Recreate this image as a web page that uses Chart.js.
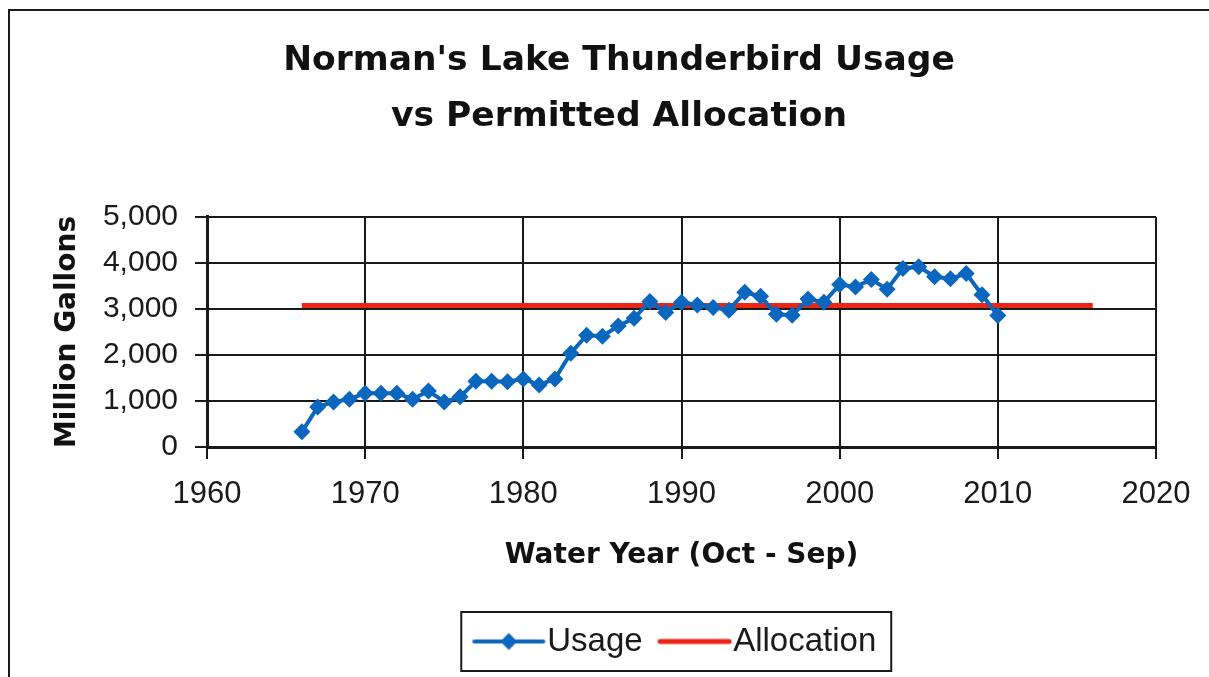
<!DOCTYPE html>
<html>
<head>
<meta charset="utf-8">
<script src="https://cdn.jsdelivr.net/npm/chart.js@4.4.1/dist/chart.umd.min.js"></script>
<style>
html,body{margin:0;padding:0;background:#fff;}
canvas{display:block;}
</style>
</head>
<body>
<canvas id="c" width="1209" height="677"></canvas>
<script>
// ---- data ----
const years = [1966,1967,1968,1969,1970,1971,1972,1973,1974,1975,1976,1977,1978,1979,1980,
               1981,1982,1983,1984,1985,1986,1987,1988,1989,1990,1991,1992,1993,1994,1995,
               1996,1997,1998,1999,2000,2001,2002,2003,2004,2005,2006,2007,2008,2009,2010];
const usage = [330,870,980,1040,1170,1170,1170,1040,1220,980,1090,1430,1430,1420,1480,
               1350,1480,2040,2430,2410,2630,2800,3165,2925,3145,3085,3035,2975,3365,3275,
               2885,2865,3215,3145,3530,3480,3640,3430,3880,3920,3700,3660,3770,3310,2860];
const allocationYears = [1966, 2016];
const allocation = [3075, 3075];
const seriesNames = ['Usage', 'Allocation'];
const titleLines = ["Norman's Lake Thunderbird Usage", "vs Permitted Allocation"];
const xAxisTitle = 'Water Year (Oct - Sep)';
const yAxisTitle = 'Million Gallons';
const xMin = 1960, xMax = 2020, xStep = 10;
const yMin = 0, yMax = 5000, yStep = 1000;

// ---- styles ----
const BLUE = '#0b66bd';
const RED = '#ee2414';
const INK = '#1a1a1a';
const LEG_PAD = 30;
const PAD_LEFT = 82;

function legendImg(color, lw, diamond) {
  const c = document.createElement('canvas');
  c.width = 75; c.height = 24;
  const g = c.getContext('2d');
  g.strokeStyle = color; g.lineWidth = lw; g.lineCap = 'round';
  g.beginPath(); g.moveTo(3, 12); g.lineTo(72, 12); g.stroke();
  if (diamond) {
    g.fillStyle = color;
    g.beginPath();
    g.moveTo(37.5 - 8.5, 12); g.lineTo(37.5, 3.5); g.lineTo(46, 12); g.lineTo(37.5, 20.5);
    g.closePath(); g.fill();
  }
  return c;
}
const legendImages = [legendImg(BLUE, 4, true), legendImg(RED, 5, false)];

const framePlugin = {
  id: 'frame',
  beforeDraw(chart) {
    const ctx = chart.ctx;
    ctx.save();
    ctx.fillStyle = '#fff';
    ctx.fillRect(0, 0, chart.width, chart.height);
    ctx.strokeStyle = INK; ctx.lineWidth = 2;
    ctx.beginPath();
    ctx.moveTo(9, 677); ctx.lineTo(9, 10); ctx.lineTo(1209, 10);
    ctx.stroke();
    ctx.restore();
  },
  afterDraw(chart) {
    const lg = chart.legend;
    if (!lg || !lg.lineWidths) return;
    const x0 = ((lg.left + LEG_PAD) + (lg.right - lg.lineWidths[0])) / 2;
    const end = x0 + lg.lineWidths[0] - LEG_PAD;
    const cy = lg.top + LEG_PAD + 16.5;
    const ctx = chart.ctx;
    ctx.save();
    ctx.strokeStyle = INK; ctx.lineWidth = 2;
    ctx.strokeRect(x0 - 25.5, cy - 29.5, (end + 15) - (x0 - 25.5), 59);
    ctx.restore();
  }
};

new Chart(document.getElementById('c'), {
  type: 'line',
  data: {
    datasets: [
      {
        label: seriesNames[0],
        data: years.map((y, i) => ({x: y, y: usage[i]})),
        borderColor: BLUE,
        backgroundColor: BLUE,
        borderWidth: 4,
        pointStyle: 'rectRot',
        pointRadius: 8.5,
        pointBorderWidth: 0,
        pointBackgroundColor: BLUE,
        tension: 0,
        order: 0
      },
      {
        label: seriesNames[1],
        data: allocationYears.map((y, i) => ({x: y, y: allocation[i]})),
        borderColor: RED,
        backgroundColor: RED,
        borderWidth: 5,
        pointRadius: 0,
        tension: 0,
        order: 1
      }
    ]
  },
  options: {
    responsive: false,
    animation: false,
    devicePixelRatio: 1,
    layout: {padding: {left: PAD_LEFT, right: 53, top: 0, bottom: 9}},
    plugins: {
      title: {
        display: true,
        text: titleLines,
        color: '#111',
        font: {family: 'DejaVu Sans', size: 34.5, weight: 'bold', lineHeight: 1.62},
        padding: {top: 33, bottom: 72.2}
      },
      legend: {
        display: true,
        position: 'bottom',
        fullSize: false,
        labels: {
          usePointStyle: true,
          pointStyleWidth: 44,
          padding: LEG_PAD,
          color: INK,
          font: {family: 'Liberation Sans', size: 33},
          generateLabels: () => seriesNames.map((n, i) => ({
            text: n, pointStyle: legendImages[i], fillStyle: i ? RED : BLUE,
            strokeStyle: i ? RED : BLUE, lineWidth: 0, hidden: false, datasetIndex: i, fontColor: INK
          }))
        }
      },
      tooltip: {enabled: false}
    },
    scales: {
      x: {
        type: 'linear',
        min: xMin, max: xMax,
        afterFit: s => { s.height = 148; },
        ticks: {
          stepSize: xStep,
          callback: v => String(v),
          color: INK,
          font: {family: 'Liberation Sans', size: 31},
          padding: 17,
          maxRotation: 0
        },
        grid: {color: INK, lineWidth: 2, tickLength: 12, tickColor: INK, tickWidth: 2},
        border: {color: INK, width: 3},
        title: {
          display: true, text: xAxisTitle, color: '#111',
          font: {family: 'DejaVu Sans', size: 28, weight: 'bold'},
          padding: {top: 0, bottom: 22}
        }
      },
      y: {
        min: yMin, max: yMax,
        afterFit: s => { s.width = 207 - PAD_LEFT; },
        ticks: {
          stepSize: yStep,
          callback: v => Number(v).toLocaleString('en-US'),
          color: INK,
          font: {family: 'Liberation Sans', size: 30},
          padding: 17
        },
        grid: {color: INK, lineWidth: 2, tickLength: 12, tickColor: INK, tickWidth: 2},
        border: {color: INK, width: 3},
        title: {
          display: true, text: yAxisTitle, color: '#111',
          font: {family: 'DejaVu Sans', size: 28, weight: 'bold'},
          padding: {top: 68 - PAD_LEFT - 16.8, bottom: 0}
        }
      }
    }
  },
  plugins: [framePlugin]
});
</script>
</body>
</html>
